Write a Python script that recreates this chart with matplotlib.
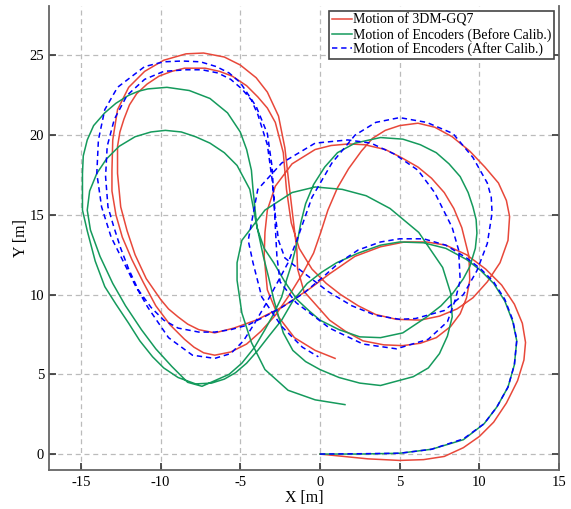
import matplotlib
matplotlib.use('Agg')
import matplotlib.pyplot as plt

plt.rcParams['font.family'] = ['Liberation Serif', 'DejaVu Serif']
plt.rcParams['axes.unicode_minus'] = False

# 3DM-GQ7 trajectory (x, y in metres)
gq7_x = [0, 1.5, 3, 5, 6.5, 7.8, 9, 10, 10.9, 11.7, 12.4, 12.8, 12.9, 12.7, 12.2, 11.4, 10.4, 9.2,
         7.9, 6.7, 5.3, 3.8, 2.2, 0.6, -0.6, -2.4, -4.0, -5.4, -6.6,
         -7.6, -8.3, -8.9, -9.5, -10.0, -10.9, -11.6, -12.1, -12.5, -12.7, -12.7, -12.55, -12.3,
         -11.95, -11.5, -10.85, -10.1, -9.3, -8.5, -7.2, -6.3, -5.5, -4.6, -3.9, -3.3, -2.8,
         -2.3, -2.1, -1.8, -1.3, -0.5, 0.4, 1.3, 2.4, 3.5, 4.8, 6.3, 7.5, 8.6, 9.6, 10.5, 11.3,
         11.8, 11.9, 11.7, 11.2, 10.35, 9.4, 8.3, 7.2, 6.15, 5.0, 4.1, 3.3, 2.6, 1.8, 1.1, 0.5,
         0.05, -0.4, -1.1, -1.9, -2.8, -3.7, -4.6, -5.6, -6.6,
         -7.3, -7.9, -8.5, -9.4, -10.3, -11.1, -11.8, -12.4, -12.8, -13.05, -13.05, -13.0,
         -12.7, -12.0, -11.0, -9.8, -8.4, -7.3, -6.0, -5.0, -4.0, -3.3, -2.6, -2.2, -1.95,
         -1.7, -1.45, -1.4, -1.0, 0.6, 1.6, 2.7, 4.0, 5.2, 6.3, 7.3, 8.2, 8.8, 9.2, 9.4, 9.35,
         8.9, 8.4, 7.8, 7.0, 6.15, 5.1, 4.1, 2.8, 1.8, 0.7, -0.3, -1.75, -2.8, -3.3, -3.45,
         -3.5, -3.3, -2.6, -1.6, -0.3, 0.95]
gq7_y = [0, -0.15, -0.3, -0.4, -0.35, -0.15, 0.4, 1.1, 2.0, 3.2, 4.6, 5.9, 7.0, 8.2, 9.4, 10.6,
         11.6, 12.5, 13.1, 13.3, 13.3, 13.0, 12.4, 11.3, 10.4, 9.2, 8.4, 7.9, 7.6,
         7.8, 8.15, 8.6, 9.1, 9.7, 11.0, 12.5, 14.0, 15.5, 17.6, 19.3, 20.2, 21.0,
         21.9, 22.6, 23.2, 23.7, 24.0, 24.2, 24.2, 24.0, 23.7, 23.1, 22.4, 21.7, 20.8,
         18.9, 16.6, 14.5, 12.9, 11.6, 10.7, 10.0, 9.3, 8.75, 8.45, 8.4, 8.65, 9.1, 9.8, 10.8,
         12.0, 13.4, 14.9, 15.9, 17.0, 18.0, 19.0, 19.9, 20.5, 20.75, 20.6, 20.3, 19.8, 19.0,
         17.9, 16.7, 15.3, 13.9, 12.6, 11.3, 10.0, 8.7, 7.7, 6.9, 6.4, 6.2,
         6.35, 6.7, 7.2, 8.1, 9.3, 10.8, 12.2, 13.6, 15.0, 16.5, 17.8, 19.7,
         21.6, 23.0, 24.0, 24.7, 25.1, 25.15, 24.9, 24.4, 23.6, 22.7, 21.2, 19.2, 17.0,
         14.9, 12.8, 11.6, 10.2, 8.4, 7.7, 7.1, 6.85, 6.8, 6.95, 7.3, 8.0, 8.8, 9.8, 10.9, 12.4,
         14.2, 15.4, 16.4, 17.3, 18.0, 18.6, 19.1, 19.4, 19.45, 19.35, 19.1, 18.2, 16.8, 15.3,
         13.9, 12.4, 10.3, 8.6, 7.3, 6.5, 6.0]

# encoders before calibration
enc_raw_x = [0, 2.5, 5, 7, 9, 10.3, 11.1, 11.8, 12.2, 12.35, 12.1, 11.6, 10.9, 10.1, 9.2, 7.9,
             6.5, 5.0, 3.8, 2.4, 1.05, 0.1, -0.8, -1.7, -2.4, -3.2, -3.9, -4.6, -5.3, -6.0, -6.8,
             -7.8, -8.9, -9.8, -10.5, -11.3, -12.0, -12.8, -13.5, -14.1, -14.6, -14.9, -14.9,
             -14.85, -14.6, -14.2, -13.5, -12.8, -12.0, -11.4, -10.8, -9.6, -8.2, -6.9, -5.8,
             -5.0, -4.6, -4.3, -4.2, -3.95, -3.5, -2.9, -2.2, -1.45, -0.7, 0.0, 1.2, 2.5, 3.8,
             5.2, 6.7, 7.6, 8.35, 9.0, 9.4, 9.75, 9.85, 9.8, 9.6, 9.3, 8.8, 8.1, 7.3, 6.3, 5.2,
             3.8, 2.2, 1.1, 0.3, -0.4, -0.9, -1.2, -1.4, -1.75, -2.1, -2.4, -2.9, -3.45, -4.1,
             -4.9, -5.7, -6.6,
             -7.4, -8.3, -9.3, -10.3, -11.2, -12.2, -13.0, -13.8, -14.4, -14.6, -14.45, -14.0,
             -13.4, -12.6, -11.6, -10.6, -9.7, -8.7, -7.8, -6.9, -6.0, -5.2, -4.4, -4.0, -3.55,
             -3.2, -2.9, -2.3, -1.7, -0.9, 0.0, 1.2, 2.5, 3.8, 5.85, 6.8, 7.5, 8.0, 8.3, 8.2, 7.7,
             6.2, 4.4, 2.9, 1.4, -0.3, -1.75, -3.45, -4.9, -5.2, -5.2, -4.9, -4.3, -3.45, -2.0,
             -0.3, 1.57]
enc_raw_y = [0, 0.0, 0.05, 0.3, 0.9, 1.9, 2.95, 4.2, 5.6, 7.1, 8.3, 9.6, 10.7, 11.5, 12.2, 12.9,
             13.25, 13.3, 13.1, 12.6, 12.0, 11.4, 10.7, 9.6, 8.4, 7.4, 6.5, 5.7, 5.1, 4.7, 4.45,
             4.4, 4.8, 5.4, 6.1, 7.1, 8.2, 9.4, 10.5, 12.1, 14.0, 15.3, 17.6,
             18.7, 19.7, 20.6, 21.4, 22.0, 22.5, 22.75, 22.9, 23.0, 22.8, 22.3, 21.4,
             20.2, 19.1, 17.8, 16.6, 14.2, 12.9, 12.0, 10.8, 9.7, 9.0, 8.4, 7.8, 7.35, 7.3,
             7.6, 8.6, 9.3, 10.1, 11.0, 11.75, 12.9, 13.85, 14.7, 15.5, 16.4, 17.4, 18.2, 18.9,
             19.4, 19.75, 19.85, 19.5, 18.9, 18.0, 16.9, 15.7, 14.5, 13.4, 12.0, 10.9, 9.85,
             8.8, 7.8, 6.7, 5.7, 5.0, 4.6,
             4.25, 4.5, 5.5, 6.6, 7.8, 9.3, 10.7, 12.4, 14.05, 15.3, 16.5, 17.6,
             18.5, 19.3, 19.9, 20.2, 20.3, 20.2, 19.9, 19.5, 18.9, 18.1, 16.6, 14.5, 12.4,
             11.0, 9.7, 7.6, 6.5, 5.8, 5.3, 4.8, 4.45, 4.3, 4.85, 5.4, 6.3, 7.4, 8.6, 10.1, 11.7,
             13.9, 15.4, 16.2, 16.6, 16.75, 16.4, 15.3, 13.4, 12.0, 10.9, 8.85, 7.0, 5.3, 4.0,
             3.4, 3.1]

# encoders after calibration
enc_cal_x = [0, 2.5, 5, 7, 9, 10.3, 11.1, 11.8, 12.2, 12.35, 12.1, 11.6, 10.9, 10.1, 9.2, 7.9,
             6.5, 5.0, 3.8, 2.4, 1.2, 0.3, -1.0, -2.4, -3.5, -4.5, -5.6, -6.6,
             -7.6, -8.9, -9.8, -10.6, -11.4, -12.0, -12.5, -12.95, -13.3, -13.45, -13.35, -12.9,
             -12.1, -11.0, -9.8, -8.4, -7.4, -6.4, -5.6, -4.9, -4.3, -3.9, -3.3, -3.0, -2.8,
             -2.6, -2.2, -1.7, -0.8, 0.5, 2.0, 3.5, 5.0, 6.0, 7.8, 9.0, 9.85, 10.5, 10.8, 10.75,
             10.5, 9.6, 8.35, 6.7, 5.0, 3.5, 2.2, 0.75, -0.5, -1.45, -2.0, -2.7, -3.4, -4.1, -4.8,
             -5.6, -6.6,
             -8.0, -9.5, -10.8, -11.6, -12.3, -13.1, -13.7, -14.0, -13.9, -13.5, -12.7, -11.0,
             -9.8, -8.65, -7.5, -6.5, -5.7, -5.0, -4.0, -3.3, -3.0, -2.9, -2.8, -2.7,
             -2.5, -1.5, 0.6, 2.7, 4.8, 6.8, 8.0, 8.5, 8.8, 8.7, 8.3, 7.2, 6.15, 4.7, 3.2, 1.75,
             -0.3, -2.4, -3.9, -4.5, -4.2, -3.65, -2.4, -1.1, -0.1]
enc_cal_y = [0, 0.02, 0.05, 0.3, 0.95, 1.9, 2.95, 4.2, 5.6, 7.15, 8.4, 9.7, 10.8, 11.6, 12.3,
             13.1, 13.5, 13.5, 13.3, 12.8, 12.0, 11.2, 10.1, 9.2, 8.6, 8.1, 7.8, 7.65,
             7.65, 7.9, 8.4, 9.2, 10.3, 11.6, 12.9, 14.3, 15.5, 17.4, 19.3, 21.0,
             22.5, 23.5, 24.0, 24.1, 24.1, 23.9, 23.5, 22.9, 22.2, 21.3, 19.4, 17.2, 15.0,
             13.4, 12.3, 11.9, 11.2, 10.2, 9.3, 8.7, 8.45, 8.5, 9.0, 10.0, 11.5, 13.2, 15.1, 16.1,
             17.0, 18.6, 20.1, 20.8, 21.1, 20.8, 20.0, 18.25, 16.1, 13.4, 12.0, 10.7, 9.4, 8.2,
             7.1, 6.3, 6.0,
             6.2, 7.3, 9.2, 10.6, 12.0, 13.6, 15.5, 17.6, 19.7, 21.6, 23.0, 24.3,
             24.6, 24.65, 24.6, 24.3, 23.9, 23.3, 21.8, 20.1, 18.0, 16.1, 14.2, 12.4,
             10.8, 9.5, 7.9, 6.9, 6.6, 7.2, 8.3, 9.7, 10.9, 12.8, 14.2, 16.4, 17.8, 18.8, 19.5,
             19.7, 19.5, 18.25, 16.6, 13.4, 12.0, 9.85, 8.0, 6.7, 6.1]

fig = plt.figure(figsize=(5.71, 5.09), dpi=100)
ax = fig.add_axes([49 / 571, 1 - 470 / 509, 510 / 571, 464 / 509])

ax.plot(gq7_x, gq7_y, color='#E8483A', lw=1.1, label='Motion of 3DM-GQ7')
ax.plot(enc_raw_x, enc_raw_y, color='#159A5C', lw=1.1, label='Motion of Encoders (Before Calib.)')
ax.plot(enc_cal_x, enc_cal_y, color='#0000FF', lw=1.1, ls=(0, (3.5, 2.5)),
        label='Motion of Encoders (After Calib.)')

ax.set_xlim(-17, 15)
ax.set_ylim(-1.0, 28.1)
ax.set_xticks([-15, -10, -5, 0, 5, 10, 15])
ax.set_yticks([0, 5, 10, 15, 20, 25])
ax.grid(True, color='#BBBBBB', ls=(0, (4, 3)), lw=0.9)
ax.tick_params(direction='in', length=5, width=1.2, color='#333333', labelsize=10.5, right=True)
ax.tick_params(axis='x', pad=4.5)
ax.tick_params(axis='y', pad=3.5)
for side in ['left', 'bottom', 'right']:
    ax.spines[side].set_color('#666666')
    ax.spines[side].set_linewidth(1.3)
ax.spines['top'].set_visible(False)

ax.set_xlabel('X [m]', fontsize=11.5, labelpad=0.5)
ax.set_ylabel('Y [m]', fontsize=11.5, labelpad=0)

leg = ax.legend(loc='upper right', fontsize=10, handlelength=1.4, handletextpad=0.1,
                labelspacing=0.05, borderpad=0.2, borderaxespad=0.35, fancybox=False,
                framealpha=1, edgecolor='#444444')
leg.get_frame().set_linewidth(1.2)

plt.savefig('out.png', dpi=100)
plt.close()
